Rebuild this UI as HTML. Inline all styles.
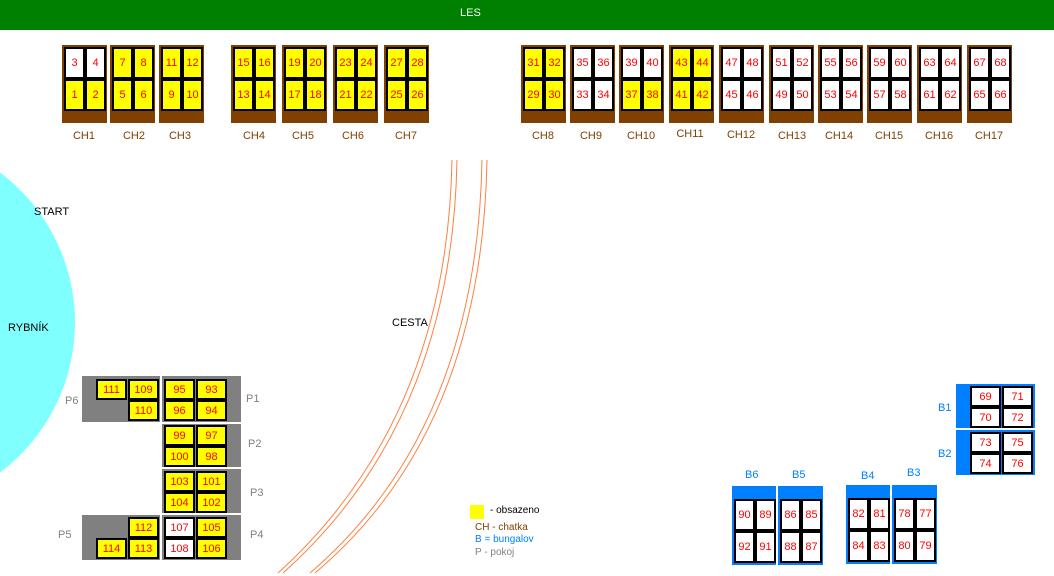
<!DOCTYPE html>
<html><head><meta charset="utf-8"><style>
body{margin:0;width:1054px;height:576px;position:relative;overflow:hidden;background:#fff;font-family:"Liberation Sans",sans-serif;font-size:11px}
div,span{position:absolute;box-sizing:border-box}
.c{top:45px;width:45px;height:78px;background:#804000}
.r{border:2px solid #000;background:#fff;color:#f00;display:flex;align-items:center;justify-content:center;font-size:11px}
.y{background:#ff0}
.cr{width:21px;height:32px}
.pr{width:31px;height:21px}
.br{width:21px;height:32px}
.l{color:#804000;width:50px;text-align:center;top:130px}
.g{background:#808080}
.bl{background:#0080ff}
.pl{color:#808080}
.bt{color:#0080ff}
</style></head><body>
<div style="left:0;top:0;width:1054px;height:30px;background:#008000;color:#fff;line-height:26px"><span style="left:460px;top:0">LES</span></div>
<div style="left:-300px;top:135px;width:375px;height:375px;border-radius:50%;background:#80ffff"></div>
<span style="left:34px;top:206px">START</span>
<span style="left:8px;top:322px">RYBNÍK</span>
<span style="left:392px;top:317px">CESTA</span>
<svg style="position:absolute;left:0;top:0" width="1054" height="576"><g fill="none" stroke="#ff8040" stroke-width="1">
<path d="M452,160 Q447,420 278,573"/><path d="M457,160 Q452,422 283,573"/>
<path d="M482,160 Q477,430 310,573"/><path d="M487,160 Q482,432 315,573"/></g></svg>

<!-- cabins -->
<div class="c" style="left:62px"></div><div class="r cr" style="left:64px;top:47px">3</div><div class="r cr" style="left:85px;top:47px">4</div><div class="r cr y" style="left:64px;top:79px">1</div><div class="r cr y" style="left:85px;top:79px">2</div><span class="l" style="left:59px">CH1</span>
<div class="c" style="left:110px"></div><div class="r cr y" style="left:112px;top:47px">7</div><div class="r cr y" style="left:133px;top:47px">8</div><div class="r cr y" style="left:112px;top:79px">5</div><div class="r cr y" style="left:133px;top:79px">6</div><span class="l" style="left:109px">CH2</span>
<div class="c" style="left:159px"></div><div class="r cr y" style="left:161px;top:47px">11</div><div class="r cr y" style="left:182px;top:47px">12</div><div class="r cr y" style="left:161px;top:79px">9</div><div class="r cr y" style="left:182px;top:79px">10</div><span class="l" style="left:155px">CH3</span>
<div class="c" style="left:231px"></div><div class="r cr y" style="left:233px;top:47px">15</div><div class="r cr y" style="left:254px;top:47px">16</div><div class="r cr y" style="left:233px;top:79px">13</div><div class="r cr y" style="left:254px;top:79px">14</div><span class="l" style="left:229px">CH4</span>
<div class="c" style="left:282px"></div><div class="r cr y" style="left:284px;top:47px">19</div><div class="r cr y" style="left:305px;top:47px">20</div><div class="r cr y" style="left:284px;top:79px">17</div><div class="r cr y" style="left:305px;top:79px">18</div><span class="l" style="left:278px">CH5</span>
<div class="c" style="left:333px"></div><div class="r cr y" style="left:335px;top:47px">23</div><div class="r cr y" style="left:356px;top:47px">24</div><div class="r cr y" style="left:335px;top:79px">21</div><div class="r cr y" style="left:356px;top:79px">22</div><span class="l" style="left:328px">CH6</span>
<div class="c" style="left:384px"></div><div class="r cr y" style="left:386px;top:47px">27</div><div class="r cr y" style="left:407px;top:47px">28</div><div class="r cr y" style="left:386px;top:79px">25</div><div class="r cr y" style="left:407px;top:79px">26</div><span class="l" style="left:381px">CH7</span>
<div class="c" style="left:521px"></div><div class="r cr y" style="left:523px;top:47px">31</div><div class="r cr y" style="left:544px;top:47px">32</div><div class="r cr y" style="left:523px;top:79px">29</div><div class="r cr y" style="left:544px;top:79px">30</div><span class="l" style="left:518px">CH8</span>
<div class="c" style="left:570px"></div><div class="r cr" style="left:572px;top:47px">35</div><div class="r cr" style="left:593px;top:47px">36</div><div class="r cr" style="left:572px;top:79px">33</div><div class="r cr" style="left:593px;top:79px">34</div><span class="l" style="left:566px">CH9</span>
<div class="c" style="left:619px"></div><div class="r cr" style="left:621px;top:47px">39</div><div class="r cr" style="left:642px;top:47px">40</div><div class="r cr y" style="left:621px;top:79px">37</div><div class="r cr y" style="left:642px;top:79px">38</div><span class="l" style="left:616px">CH10</span>
<div class="c" style="left:669px"></div><div class="r cr y" style="left:671px;top:47px">43</div><div class="r cr y" style="left:692px;top:47px">44</div><div class="r cr y" style="left:671px;top:79px">41</div><div class="r cr y" style="left:692px;top:79px">42</div><span class="l" style="left:665px;top:128px">CH11</span>
<div class="c" style="left:719px"></div><div class="r cr" style="left:721px;top:47px">47</div><div class="r cr" style="left:742px;top:47px">48</div><div class="r cr" style="left:721px;top:79px">45</div><div class="r cr" style="left:742px;top:79px">46</div><span class="l" style="left:716px;top:129px">CH12</span>
<div class="c" style="left:769px"></div><div class="r cr" style="left:771px;top:47px">51</div><div class="r cr" style="left:792px;top:47px">52</div><div class="r cr" style="left:771px;top:79px">49</div><div class="r cr" style="left:792px;top:79px">50</div><span class="l" style="left:767px">CH13</span>
<div class="c" style="left:818px"></div><div class="r cr" style="left:820px;top:47px">55</div><div class="r cr" style="left:841px;top:47px">56</div><div class="r cr" style="left:820px;top:79px">53</div><div class="r cr" style="left:841px;top:79px">54</div><span class="l" style="left:814px">CH14</span>
<div class="c" style="left:867px"></div><div class="r cr" style="left:869px;top:47px">59</div><div class="r cr" style="left:890px;top:47px">60</div><div class="r cr" style="left:869px;top:79px">57</div><div class="r cr" style="left:890px;top:79px">58</div><span class="l" style="left:864px">CH15</span>
<div class="c" style="left:917px"></div><div class="r cr" style="left:919px;top:47px">63</div><div class="r cr" style="left:940px;top:47px">64</div><div class="r cr" style="left:919px;top:79px">61</div><div class="r cr" style="left:940px;top:79px">62</div><span class="l" style="left:914px">CH16</span>
<div class="c" style="left:967px"></div><div class="r cr" style="left:969px;top:47px">67</div><div class="r cr" style="left:990px;top:47px">68</div><div class="r cr" style="left:969px;top:79px">65</div><div class="r cr" style="left:990px;top:79px">66</div><span class="l" style="left:964px">CH17</span>

<!-- P blocks -->
<div class="g" style="left:82px;top:376px;width:78px;height:46px"></div>
<div class="g" style="left:162px;top:376px;width:79px;height:46px"></div>
<div class="g" style="left:162px;top:424px;width:79px;height:43px"></div>
<div class="g" style="left:162px;top:469px;width:79px;height:44px"></div>
<div class="g" style="left:162px;top:515px;width:79px;height:45px"></div>
<div class="g" style="left:82px;top:515px;width:78px;height:45px"></div>
<div class="r pr y" style="left:96px;top:379px">111</div><div class="r pr y" style="left:128px;top:379px">109</div><div class="r pr y" style="left:128px;top:400px">110</div>
<div class="r pr y" style="left:164px;top:379px">95</div><div class="r pr y" style="left:196px;top:379px">93</div><div class="r pr y" style="left:164px;top:400px">96</div><div class="r pr y" style="left:196px;top:400px">94</div>
<div class="r pr y" style="left:164px;top:425px">99</div><div class="r pr y" style="left:196px;top:425px">97</div><div class="r pr y" style="left:164px;top:446px">100</div><div class="r pr y" style="left:196px;top:446px">98</div>
<div class="r pr y" style="left:164px;top:471px">103</div><div class="r pr y" style="left:196px;top:471px">101</div><div class="r pr y" style="left:164px;top:492px">104</div><div class="r pr y" style="left:196px;top:492px">102</div>
<div class="r pr" style="left:164px;top:517px">107</div><div class="r pr y" style="left:196px;top:517px">105</div><div class="r pr" style="left:164px;top:538px">108</div><div class="r pr y" style="left:196px;top:538px">106</div>
<div class="r pr y" style="left:128px;top:517px">112</div><div class="r pr y" style="left:96px;top:538px">114</div><div class="r pr y" style="left:128px;top:538px">113</div>
<span class="pl" style="left:65px;top:395px">P6</span><span class="pl" style="left:246px;top:393px">P1</span><span class="pl" style="left:248px;top:438px">P2</span><span class="pl" style="left:250px;top:487px">P3</span><span class="pl" style="left:250px;top:529px">P4</span><span class="pl" style="left:58px;top:529px">P5</span>

<!-- B blocks -->
<div class="bl" style="left:956px;top:384px;width:79px;height:44px"></div>
<div class="bl" style="left:956px;top:430px;width:79px;height:45px"></div>
<div class="r pr" style="left:970px;top:386px">69</div><div class="r pr" style="left:1002px;top:386px">71</div><div class="r pr" style="left:970px;top:407px">70</div><div class="r pr" style="left:1002px;top:407px">72</div>
<div class="r pr" style="left:970px;top:432px">73</div><div class="r pr" style="left:1002px;top:432px">75</div><div class="r pr" style="left:970px;top:453px">74</div><div class="r pr" style="left:1002px;top:453px">76</div>
<span class="bt" style="left:938px;top:402px">B1</span><span class="bt" style="left:938px;top:448px">B2</span>
<div class="bl" style="left:732px;top:486px;width:44px;height:79px"></div>
<div class="bl" style="left:778px;top:486px;width:45px;height:79px"></div>
<div class="bl" style="left:846px;top:485px;width:44px;height:79px"></div>
<div class="bl" style="left:892px;top:485px;width:45px;height:79px"></div>
<div class="r br" style="left:734px;top:499px">90</div><div class="r br" style="left:755px;top:499px">89</div><div class="r br" style="left:734px;top:531px">92</div><div class="r br" style="left:755px;top:531px">91</div>
<div class="r br" style="left:780px;top:499px">86</div><div class="r br" style="left:801px;top:499px">85</div><div class="r br" style="left:780px;top:531px">88</div><div class="r br" style="left:801px;top:531px">87</div>
<div class="r br" style="left:848px;top:498px">82</div><div class="r br" style="left:869px;top:498px">81</div><div class="r br" style="left:848px;top:530px">84</div><div class="r br" style="left:869px;top:530px">83</div>
<div class="r br" style="left:894px;top:498px">78</div><div class="r br" style="left:915px;top:498px">77</div><div class="r br" style="left:894px;top:530px">80</div><div class="r br" style="left:915px;top:530px">79</div>
<span class="bt" style="left:745px;top:469px">B6</span><span class="bt" style="left:792px;top:469px">B5</span><span class="bt" style="left:861px;top:470px">B4</span><span class="bt" style="left:907px;top:467px">B3</span>

<!-- legend -->
<div style="left:470px;top:505px;width:14px;height:14px;background:#ff0"></div>
<span style="left:490px;top:505px;font-size:10px">- obsazeno</span>
<span style="left:475px;top:522px;color:#804000;font-size:10px">CH - chatka</span>
<span style="left:475px;top:534px;color:#0080ff;font-size:10px">B = bungalov</span>
<span style="left:475px;top:547px;color:#808080;font-size:10px">P - pokoj</span>
</body></html>
